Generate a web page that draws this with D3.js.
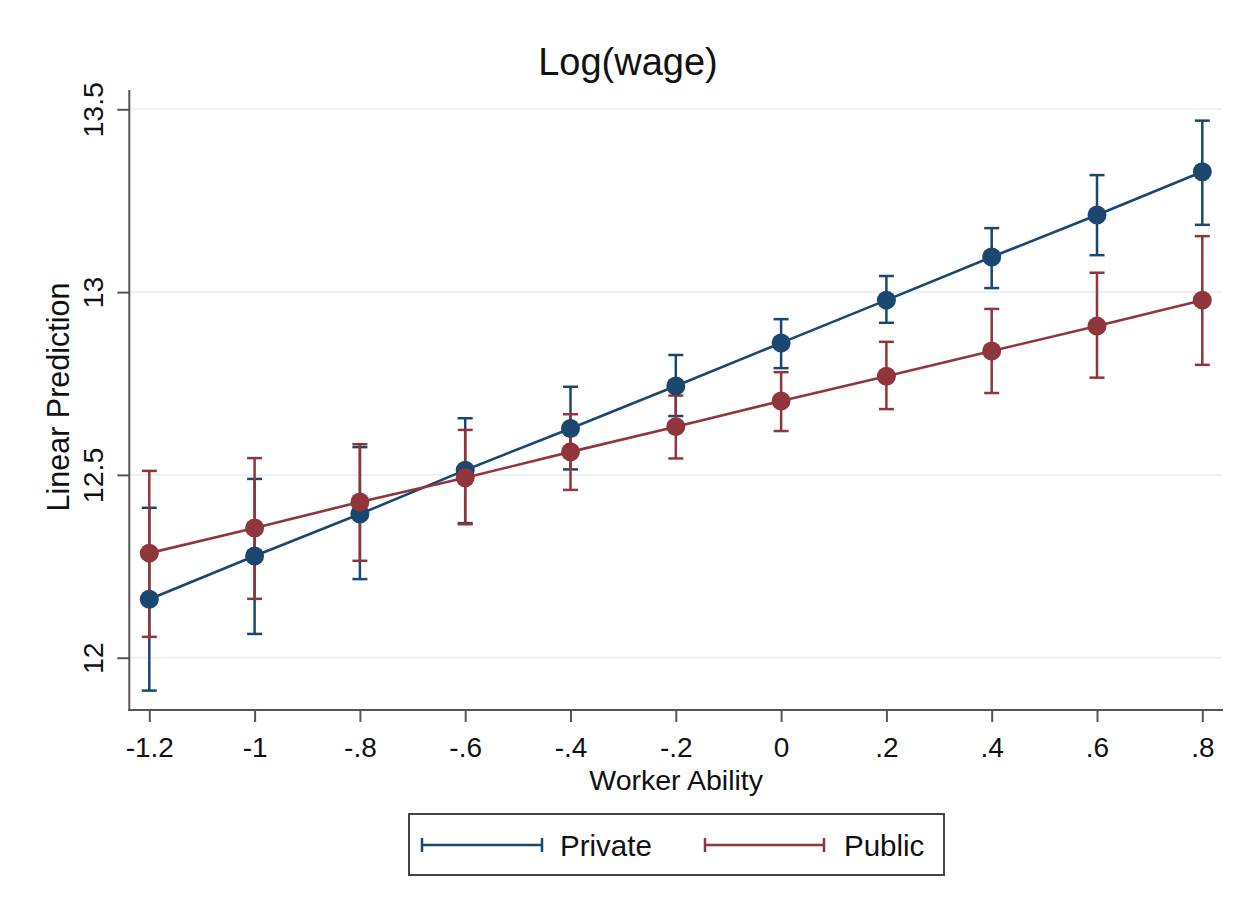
<!DOCTYPE html>
<html>
<head>
<meta charset="utf-8">
<script src="https://cdn.jsdelivr.net/npm/d3@7"></script>
<style>
  html, body { margin: 0; padding: 0; background: #fff; }
  svg { display: block; font-family: "Liberation Sans", Arial, Helvetica, sans-serif; }
</style>
</head>
<body>
<svg id="chart" width="1251" height="909"></svg>
<script>
// Predicted log wage by worker ability, private vs public sector (with 95% CIs)
const ability = [-1.2, -1, -0.8, -0.6, -0.4, -0.2, 0, 0.2, 0.4, 0.6, 0.8];
const xTickLabels = ["-1.2", "-1", "-.8", "-.6", "-.4", "-.2", "0", ".2", ".4", ".6", ".8"];
const yTicks = [12, 12.5, 13, 13.5];
const yTickLabels = ["12", "12.5", "13", "13.5"];

const privateFit = [12.160, 12.278, 12.393, 12.513, 12.627, 12.743, 12.861, 12.978, 13.096, 13.211, 13.329];
const privateLo  = [11.910, 12.065, 12.215, 12.368, 12.515, 12.661, 12.792, 12.916, 13.011, 13.101, 13.184];
const privateHi  = [12.410, 12.489, 12.576, 12.655, 12.741, 12.828, 12.926, 13.044, 13.175, 13.320, 13.469];

const publicFit = [12.286, 12.355, 12.426, 12.492, 12.563, 12.632, 12.702, 12.770, 12.839, 12.907, 12.978];
const publicLo  = [12.057, 12.161, 12.265, 12.365, 12.459, 12.545, 12.620, 12.680, 12.724, 12.766, 12.801];
const publicHi  = [12.511, 12.546, 12.584, 12.623, 12.666, 12.717, 12.781, 12.864, 12.954, 13.053, 13.153];

const seriesNames = ["Private", "Public"];
const seriesColors = ["#1a476f", "#90353b"];

const series = [
  { name: seriesNames[0], color: seriesColors[0], fit: privateFit, lo: privateLo, hi: privateHi },
  { name: seriesNames[1], color: seriesColors[1], fit: publicFit, lo: publicLo, hi: publicHi }
];

const svg = d3.select("#chart");
const plot = { left: 129.3, right: 1223, top: 90, bottom: 710 };

const x = d3.scaleLinear().domain([-1.2, 0.8]).range([149.3, 1202.3]);
const y = d3.scaleLinear().domain([12, 13.5]).range([657.7, 109.3]);

const axisColor = "#555";
const textColor = "#111";

// Horizontal grid lines
svg.append("g").selectAll("line")
  .data(yTicks)
  .join("line")
  .attr("x1", plot.left + 1).attr("x2", plot.right - 1)
  .attr("y1", d => y(d)).attr("y2", d => y(d))
  .attr("stroke", "#eaf2f3").attr("stroke-width", 2);

// Y axis
const yAxis = svg.append("g")
  .attr("transform", `translate(${plot.left},0)`)
  .call(d3.axisLeft(y).tickValues(yTicks).tickFormat((d, i) => yTickLabels[i]).tickSize(12).tickSizeOuter(0));
yAxis.select(".domain").remove();
yAxis.selectAll(".tick line").attr("stroke", axisColor).attr("stroke-width", 2);
yAxis.selectAll(".tick text")
  .attr("x", null).attr("dy", null).attr("y", null)
  .attr("transform", "translate(-26,0) rotate(-90)")
  .attr("text-anchor", "middle")
  .attr("fill", textColor)
  .style("font-size", "28.5px");

// X axis
const xAxis = svg.append("g")
  .attr("transform", `translate(0,${plot.bottom})`)
  .call(d3.axisBottom(x).tickValues(ability).tickFormat((d, i) => xTickLabels[i]).tickSize(12).tickSizeOuter(0));
xAxis.select(".domain").remove();
xAxis.selectAll(".tick line").attr("stroke", axisColor).attr("stroke-width", 2);
xAxis.selectAll(".tick text")
  .attr("dy", null).attr("y", 47)
  .attr("fill", textColor)
  .style("font-size", "28px");

// Axis lines
svg.append("line")
  .attr("x1", plot.left).attr("x2", plot.left)
  .attr("y1", plot.top).attr("y2", plot.bottom + 1)
  .attr("stroke", axisColor).attr("stroke-width", 2);
svg.append("line")
  .attr("x1", plot.left - 1).attr("x2", plot.right)
  .attr("y1", plot.bottom).attr("y2", plot.bottom)
  .attr("stroke", axisColor).attr("stroke-width", 2);

// Confidence intervals (capped spikes)
const capHalf = 7.5;
series.forEach(s => {
  const g = svg.append("g").attr("stroke", s.color).attr("stroke-width", 2.5).attr("fill", "none");
  ability.forEach((a, i) => {
    const cx = x(a);
    g.append("line").attr("x1", cx).attr("x2", cx).attr("y1", y(s.lo[i])).attr("y2", y(s.hi[i]));
    g.append("line").attr("x1", cx - capHalf).attr("x2", cx + capHalf).attr("y1", y(s.lo[i])).attr("y2", y(s.lo[i]));
    g.append("line").attr("x1", cx - capHalf).attr("x2", cx + capHalf).attr("y1", y(s.hi[i])).attr("y2", y(s.hi[i]));
  });
});

// Fitted lines and markers
const line = d3.line().x((d, i) => x(ability[i])).y(d => y(d));
series.forEach(s => {
  svg.append("path")
    .datum(s.fit)
    .attr("d", line)
    .attr("fill", "none")
    .attr("stroke", s.color)
    .attr("stroke-width", 2.6);
  svg.append("g").selectAll("circle")
    .data(s.fit)
    .join("circle")
    .attr("cx", (d, i) => x(ability[i]))
    .attr("cy", d => y(d))
    .attr("r", 9.5)
    .attr("fill", s.color);
});

// Title
svg.append("text")
  .attr("x", 628).attr("y", 75)
  .attr("text-anchor", "middle")
  .attr("fill", textColor)
  .style("font-size", "38px")
  .text("Log(wage)");

// Axis titles
svg.append("text")
  .attr("x", (plot.left + plot.right) / 2).attr("y", 790)
  .attr("text-anchor", "middle")
  .attr("fill", textColor)
  .style("font-size", "28.5px")
  .text("Worker Ability");

svg.append("text")
  .attr("transform", `translate(69,${(plot.top + plot.bottom) / 2 - 3}) rotate(-90)`)
  .attr("text-anchor", "middle")
  .attr("fill", textColor)
  .style("font-size", "30.5px")
  .text("Linear Prediction");

// Legend
const legend = svg.append("g");
legend.append("rect")
  .attr("x", 409).attr("y", 814)
  .attr("width", 535).attr("height", 61)
  .attr("fill", "#fff")
  .attr("stroke", "#444").attr("stroke-width", 2);

const legendItems = [
  { x0: 422, x1: 542, tx: 560 },
  { x0: 705, x1: 824, tx: 844 }
];
series.forEach((s, i) => {
  const it = legendItems[i];
  const ly = 845;
  const g = legend.append("g").attr("stroke", s.color).attr("stroke-width", 2.5);
  g.append("line").attr("x1", it.x0).attr("x2", it.x1).attr("y1", ly).attr("y2", ly);
  g.append("line").attr("x1", it.x0).attr("x2", it.x0).attr("y1", ly - 7).attr("y2", ly + 7);
  g.append("line").attr("x1", it.x1).attr("x2", it.x1).attr("y1", ly - 7).attr("y2", ly + 7);
  legend.append("text")
    .attr("x", it.tx).attr("y", 856)
    .attr("fill", textColor)
    .style("font-size", "29.5px")
    .text(s.name);
});
</script>
</body>
</html>
